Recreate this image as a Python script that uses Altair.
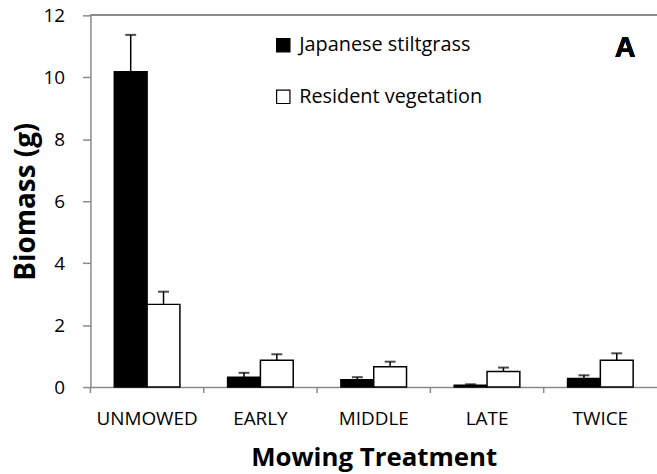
import altair as alt
import pandas as pd

# Biomass (g) by mowing treatment, with standard errors
treatments = ["UNMOWED", "EARLY", "MIDDLE", "LATE", "TWICE"]
groups = ["Japanese stiltgrass", "Resident vegetation"]
stilt_mean = [10.18, 0.32, 0.24, 0.06, 0.28]
stilt_se = [1.19, 0.14, 0.08, 0.03, 0.10]
resident_mean = [2.67, 0.87, 0.66, 0.50, 0.87]
resident_se = [0.41, 0.19, 0.16, 0.13, 0.22]

rows = []
for t, m, s in zip(treatments, stilt_mean, stilt_se):
    rows.append({"treatment": t, "group": groups[0], "biomass": m, "upper": m + s})
for t, m, s in zip(treatments, resident_mean, resident_se):
    rows.append({"treatment": t, "group": groups[1], "biomass": m, "upper": m + s})
df = pd.DataFrame(rows)
cats = pd.DataFrame({"treatment": treatments})

FONT = "Open Sans"
AXIS_GREY = "#8a8a8a"

x_enc = alt.X(
    "treatment:N",
    sort=treatments,
    scale=alt.Scale(paddingInner=0, paddingOuter=0),
    axis=alt.Axis(
        title="Mowing Treatment", labelAngle=0, ticks=False, labelPadding=23,
        labelFontSize=19, labelFont=FONT, labelColor="black", labelLimit=0,
        titleFont=FONT, titleFontSize=26, titleFontWeight="bold", titleColor="black",
        titlePadding=16, domainColor=AXIS_GREY, domainWidth=1.5,
    ),
)
xoff = alt.XOffset(
    "group:N", sort=groups, scale=alt.Scale(paddingInner=0, paddingOuter=0.727)
)
y_scale = alt.Scale(domain=[0, 12], nice=False)
y_axis = alt.Axis(
    title="Biomass (g)", values=[0, 2, 4, 6, 8, 10, 12], grid=False,
    tickSize=8, tickColor=AXIS_GREY, tickWidth=1.5, domainColor=AXIS_GREY, domainWidth=1.5,
    labelFontSize=19, labelFont=FONT, labelColor="black", labelPadding=18,
    titleFont=FONT, titleFontSize=28, titleFontWeight="bold", titleColor="black",
    titlePadding=3,
)

bars = alt.Chart(df).mark_bar(stroke="black", strokeWidth=1.5).encode(
    x=x_enc,
    xOffset=xoff,
    y=alt.Y("biomass:Q", scale=y_scale, axis=y_axis),
    fill=alt.Fill(
        "group:N", sort=groups,
        scale=alt.Scale(domain=groups, range=["black", "white"]),
        legend=alt.Legend(
            title=None, orient="none", legendX=184, legendY=20,
            symbolType="square", symbolSize=180, symbolStrokeColor="black",
            symbolStrokeWidth=1.2, labelFont=FONT, labelFontSize=20,
            labelColor="black", labelLimit=0, rowPadding=32, padding=0,
            labelOffset=6,
        ),
    ),
)

err = alt.Chart(df).mark_rule(color="black", strokeWidth=1.5).encode(
    x=x_enc, xOffset=xoff,
    y=alt.Y("biomass:Q", scale=y_scale), y2="upper:Q",
)
caps = alt.Chart(df).mark_tick(color="black", thickness=2, size=11).encode(
    x=x_enc, xOffset=xoff,
    y=alt.Y("upper:Q", scale=y_scale),
)

# category separator ticks below the x axis
sep = alt.Chart(cats).mark_rule(color=AXIS_GREY, strokeWidth=1.5).encode(
    x=alt.X("treatment:N", sort=treatments, bandPosition=0),
    y=alt.value(374), y2=alt.value(380),
)

top_line = alt.Chart(cats).mark_rule(color=AXIS_GREY, strokeWidth=1.5).encode(
    y=alt.datum(12, scale=y_scale)
)

panel = alt.Chart(cats).mark_text(
    text="A", font="Liberation Sans", fontSize=29, fontWeight="bold",
    align="center", baseline="middle", color="black",
).encode(x=alt.value(538), y=alt.value(33))

chart = alt.layer(top_line, bars, err, caps, sep, panel).properties(
    width=570, height=374,
    padding={"left": 91, "top": 14, "right": 0, "bottom": 86},
    autosize=alt.AutoSizeParams(type="none"),
    background="white",
).configure_view(stroke=None)

chart.save("out.html", embed_options={"renderer": "svg", "actions": False})
